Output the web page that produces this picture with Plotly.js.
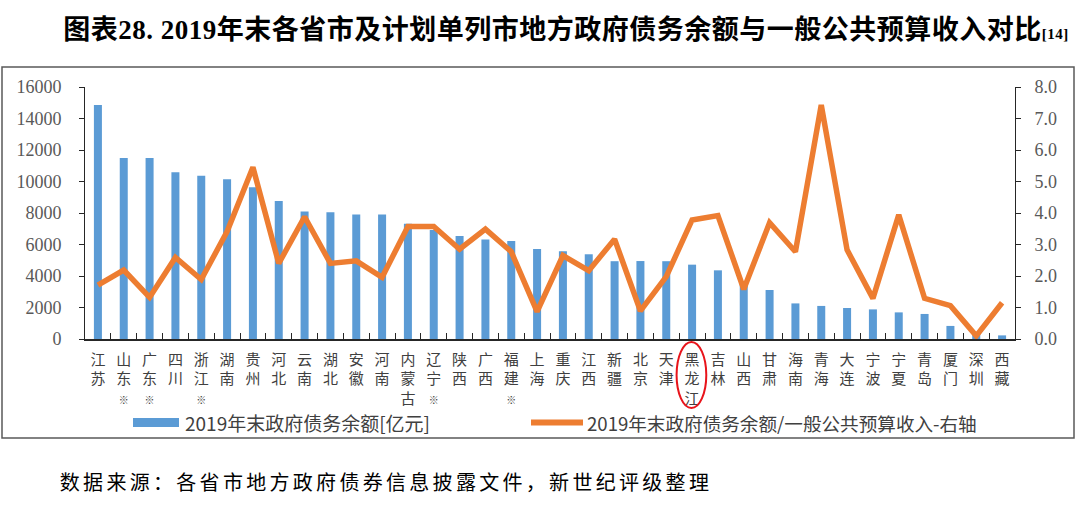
<!DOCTYPE html>
<html>
<head>
<meta charset="utf-8">
<script src="https://cdn.plot.ly/plotly-3.0.1.min.js"></script>
<style>
  html, body { margin: 0; padding: 0; background: #ffffff; }
  #chart { width: 1080px; height: 518px; }
</style>
</head>
<body>
<div id="chart"></div>
<script>
// ---- data ----
const categories = ['江苏','山东','广东','四川','浙江','湖南','贵州','河北','云南','湖北','安徽','河南','内蒙古','辽宁','陕西','广西','福建','上海','重庆','江西','新疆','北京','天津','黑龙江','吉林','山西','甘肃','海南','青海','大连','宁波','宁夏','青岛','厦门','深圳','西藏'];
const starred = ['山东','广东','浙江','辽宁','福建'];
const debt = [14860, 11500, 11500, 10580, 10370, 10140, 9630, 8760, 8100, 8040, 7900, 7900, 7320, 6920, 6540, 6310, 6220, 5710, 5570, 5380, 4940, 4950, 4940, 4720, 4360, 3500, 3110, 2260, 2100, 1970, 1880, 1690, 1590, 830, 380, 230];
const ratio = [1.71, 2.19, 1.32, 2.59, 1.89, 3.41, 5.45, 2.40, 3.88, 2.40, 2.48, 1.96, 3.57, 3.57, 2.85, 3.49, 2.77, 0.87, 2.65, 2.17, 3.17, 0.89, 1.98, 3.78, 3.92, 1.58, 3.69, 2.77, 7.43, 2.83, 1.29, 3.94, 1.29, 1.06, 0.10, 1.15];
const leftTicks = [0, 2000, 4000, 6000, 8000, 10000, 12000, 14000, 16000];
const rightTicks = [0, 1, 2, 3, 4, 5, 6, 7, 8];
const barName = '2019年末政府债务余额[亿元]';
const lineName = '2019年末政府债务余额/一般公共预算收入-右轴';
const titleText = '图表28. 2019年末各省市及计划单列市地方政府债务余额与一般公共预算收入对比';
const titleRef = '[14]';
const sourceText = '数据来源：各省市地方政府债券信息披露文件，新世纪评级整理';
const circled = '黑龙江';

const tickText = categories.map(c => {
  let t = c.split('').join('<br>');
  if (starred.includes(c)) t += '<br><span style="font-size:10px">※</span>';
  return t;
});

const BLUE = '#5B9BD5';
const ORANGE = '#ED7D31';
const serif = 'Liberation Serif, Noto Sans CJK SC, serif';
const cjk = 'Noto Sans CJK SC, Noto Sans, sans-serif';

const traces = [
  {
    type: 'bar', x: categories, y: debt, name: barName,
    marker: { color: BLUE }, yaxis: 'y', showlegend: false, hoverinfo: 'skip'
  },
  {
    type: 'scatter', mode: 'lines', x: categories, y: ratio, name: lineName,
    line: { color: ORANGE, width: 5.5 }, yaxis: 'y2', showlegend: false, hoverinfo: 'skip'
  }
];

// plot area: x 85..1015, y 87..339
const L = 85, R = 1015, T = 87, B = 339;
const px = v => (v - L) / (R - L);
const py = v => (B - v) / (B - T);
const ci = categories.indexOf(circled);

const layout = {
  width: 1080, height: 518,
  margin: { l: L, r: 1080 - R, t: T, b: 518 - B, pad: 0 },
  paper_bgcolor: '#ffffff', plot_bgcolor: '#ffffff',
  bargap: 0.69,
  showlegend: false,
  title: {
    text: '<b>' + titleText + '<span style="font-size:15px">' + titleRef + '</span></b>',
    font: { family: serif, size: 27, color: '#000000' },
    xref: 'container', x: 566 / 1080, xanchor: 'center',
    yref: 'container', y: 1 - 30 / 518, yanchor: 'middle'
  },
  xaxis: {
    type: 'category', tickvals: categories, ticktext: tickText,
    tickson: 'boundaries', ticks: 'inside', ticklen: 6, tickcolor: '#262626',
    showline: true, linecolor: '#262626', linewidth: 1.5,
    showgrid: false, zeroline: false,
    tickfont: { family: cjk, size: 15, color: '#404040' },
    ticklabelstandoff: 6,
    range: [-0.5, categories.length - 0.5], fixedrange: true
  },
  yaxis: {
    range: [0, 16000], tickvals: leftTicks, ticktext: leftTicks.map(String),
    ticks: 'outside', ticklen: 5, tickcolor: '#262626',
    showline: true, linecolor: '#262626', linewidth: 1,
    showgrid: false, zeroline: false,
    tickfont: { family: serif, size: 18, color: '#595959' },
    ticklabelstandoff: 14, fixedrange: true
  },
  yaxis2: {
    range: [0, 8], overlaying: 'y', side: 'right',
    tickvals: rightTicks, ticktext: rightTicks.map(v => v.toFixed(1)),
    ticks: 'outside', ticklen: 5, tickcolor: '#262626',
    showline: true, linecolor: '#262626', linewidth: 1,
    showgrid: false, zeroline: false,
    tickfont: { family: serif, size: 18, color: '#595959' },
    ticklabelstandoff: 10, fixedrange: true
  },
  shapes: [
    // chart frame
    { type: 'rect', xref: 'paper', yref: 'paper', x0: px(2), x1: px(1074), y0: py(438), y1: py(67),
      line: { color: '#595959', width: 1.5 }, fillcolor: 'rgba(0,0,0,0)', layer: 'below' },
    // legend swatches
    { type: 'rect', xref: 'paper', yref: 'paper', x0: px(133), x1: px(179), y0: py(427), y1: py(418),
      line: { width: 0 }, fillcolor: BLUE },
    { type: 'line', xref: 'paper', yref: 'paper', x0: px(531), x1: px(583), y0: py(422.5), y1: py(422.5),
      line: { color: ORANGE, width: 6 } },
    // red circle around highlighted label
    { type: 'circle', xref: 'x', yref: 'paper', x0: ci - 0.6, x1: ci + 0.55, y0: py(408), y1: py(342),
      line: { color: '#E8141B', width: 2 }, fillcolor: 'rgba(0,0,0,0)' }
  ],
  annotations: [
    { xref: 'paper', yref: 'paper', x: px(183), y: py(422.5), xanchor: 'left', yanchor: 'middle',
      text: barName, showarrow: false, font: { family: cjk, size: 19, color: '#404040' } },
    { xref: 'paper', yref: 'paper', x: px(585), y: py(422.5), xanchor: 'left', yanchor: 'middle',
      text: lineName, showarrow: false, font: { family: cjk, size: 18.6, color: '#404040' } },
    { xref: 'paper', yref: 'paper', x: px(386), y: py(481), xanchor: 'center', yanchor: 'middle',
      text: sourceText, showarrow: false, font: { family: cjk, size: 20, color: '#000000' } }
  ]
};

Plotly.newPlot('chart', traces, layout, { staticPlot: true, displayModeBar: false }).then(gd => {
  const anns = gd.querySelectorAll('g.annotation text');
  if (anns.length >= 3) anns[2].style.letterSpacing = '3.3px';
  const tt = gd.querySelector('g.g-gtitle text');
  if (tt) tt.style.letterSpacing = '0.5px';
});
</script>
</body>
</html>
